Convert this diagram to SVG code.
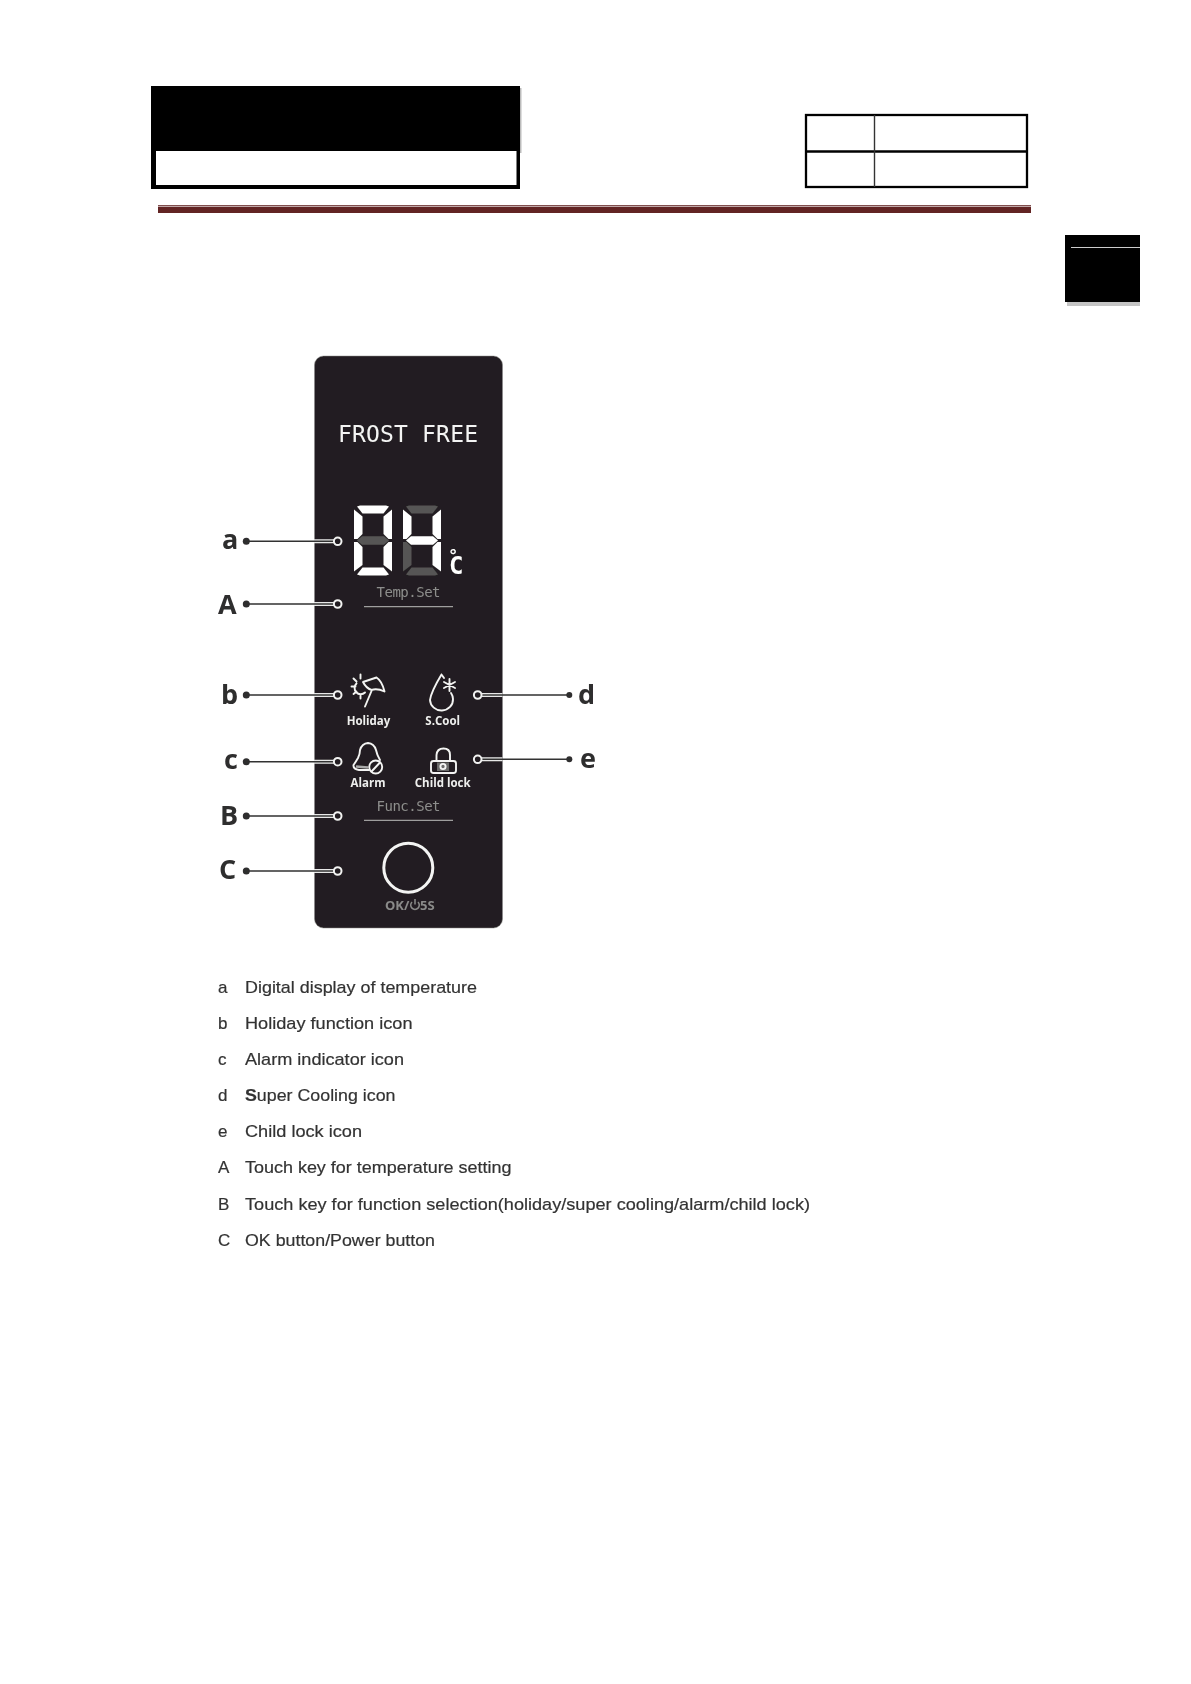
<svg xmlns="http://www.w3.org/2000/svg" width="1191" height="1684" viewBox="0 0 1191 1684">
<style>
.on{fill:#fff}.off{fill:#565555}
.mono{font-family:"DejaVu Sans Mono","Liberation Mono",monospace}
.tag{font-family:"Open Sans","Noto Sans",sans-serif;font-weight:700;font-size:27px;fill:#2f2d2e}
.ico{font-family:"Open Sans","Noto Sans",sans-serif;font-weight:700;font-size:11.5px;fill:#eee;text-anchor:middle}
.set{font-size:14px;fill:#8d8d8d}
.ok{font-family:"Open Sans","Noto Sans",sans-serif;font-weight:700;font-size:13px;fill:#8a8a8a}
.und{stroke:#bdbdbd;stroke-width:1}
.lst{font-family:"Liberation Sans",Arial,sans-serif;font-size:17px;fill:#333;stroke:#333;stroke-width:.2}
.stk{fill:none;stroke:#f4f4f4;stroke-width:1.9;stroke-linecap:round;stroke-linejoin:round}
.halo{stroke:#e8e8e8;stroke-width:4;fill:none}
.ln{stroke:#333;stroke-width:1.5;fill:none}
.dot{fill:#2f2d2e}
.ring{fill:#231f20;stroke:#f2f2f2;stroke-width:2}
.soft{filter:url(#soft)}
</style>
<defs>
<filter id="soft" x="-5%" y="-5%" width="110%" height="110%"><feGaussianBlur stdDeviation=".35"/></filter>
<polygon id="sT" points="3,1 6,0 32,0 35,1 29.500,8 8.500,8"/>
<polygon id="sUL" points="0,4 8.500,11 8.500,28.500 3.500,33.500 0,33.500"/>
<polygon id="sUR" points="38,4 29.500,11 29.500,28.500 34.500,33.500 38,33.500"/>
<polygon id="sM" points="3,35 8,30.800 30,30.800 35,35 30,39.200 8,39.200"/>
<polygon id="sLL" points="0,36.500 3.500,36.500 8.500,41.500 8.500,59.500 0,66"/>
<polygon id="sLR" points="38,36.500 34.500,36.500 29.500,41.500 29.500,59.500 38,66"/>
<polygon id="sB" points="3,69 8.500,62 29.500,62 35,69 32,70 6,70"/>
</defs>
<rect width="1191" height="1684" fill="#fff"/>

<g id="header-box">
<rect x="520" y="88" width="1.500" height="65" fill="#bbb"/>
<rect x="151" y="86" width="369" height="103" fill="#000"/>
<rect x="156" y="151" width="360.500" height="34" fill="#fff"/>
</g>
<g id="header-table">
<rect x="806" y="115" width="221" height="72" fill="#fff" stroke="#000" stroke-width="2.300"/>
<line x1="806" y1="151.500" x2="1027" y2="151.500" stroke="#000" stroke-width="2.300"/>
<line x1="874.500" y1="115" x2="874.500" y2="187" stroke="#333" stroke-width="1.400"/>
</g>
<g id="header-rule">
<rect x="158" y="205.200" width="873" height="1.200" fill="#622423"/>
<rect x="158" y="207" width="873" height="6" fill="#622423"/>
</g>
<g id="side-tab">
<rect x="1067" y="302" width="73" height="4" fill="#c4c4c4"/>
<rect x="1065" y="235" width="75" height="67" fill="#000"/>
<rect x="1071" y="247" width="69" height="1" fill="#ccc"/>
</g>

<g class="soft">
<g id="panel">
<rect x="314.500" y="356" width="188" height="572" rx="9" fill="#231f20" stroke="#888" stroke-width=".5"/>
<text x="338" y="441.500" class="mono" font-size="23" fill="#f4f4f4" textLength="140">FROST FREE</text>
</g>

<g id="display">
<g transform="translate(354,505.500)">
<use href="#sT" class="on"/><use href="#sUL" class="on"/><use href="#sUR" class="on"/><use href="#sM" class="off"/><use href="#sLL" class="on"/><use href="#sLR" class="on"/><use href="#sB" class="on"/>
</g>
<g transform="translate(403,505.500)">
<use href="#sT" class="off"/><use href="#sUL" class="on"/><use href="#sUR" class="on"/><use href="#sM" class="on"/><use href="#sLL" class="off"/><use href="#sLR" class="on"/><use href="#sB" class="off"/>
</g>
<text class="mono" font-weight="700" fill="#fff"><tspan x="448" y="562" font-size="17">°</tspan><tspan x="449" y="574" font-size="24">C</tspan></text>
</g>

<g id="temp-set">
<text x="376.500" y="596.500" class="mono set" textLength="64">Temp.Set</text>
<line x1="364" y1="606.700" x2="453" y2="606.700" class="und"/>
</g>

<g id="holiday">
<path class="stk" d="M363 682L376.500 677.500Q382 681 384.500 691.500Q377 688 371.500 690Q366 688 363 682ZM371.500 691L365 706.500"/>
<path class="stk" d="M365 692.500A6 6 0 0 1 356.500 683.500M353.500 678.500L356.500 681.500M360.500 674.500V678.500M351.500 686.500H355.500M353.500 694L356.500 691.500M360.500 698.500V695"/>
<text x="368.500" y="725" class="ico">Holiday</text>
</g>
<g id="s-cool">
<path class="stk" d="M441.500 674.500Q431 692 430 700A11.500 11 0 0 0 453 699Q453 696 451 693M441.500 674.500L444 678"/>
<path class="stk" d="M449.500 679V691M444 682L455 688M444 688L455 682"/>
<text x="442.700" y="725" class="ico">S.Cool</text>
</g>
<g id="alarm">
<path class="stk" d="M353.500 765Q355 763 358 758Q360 754 360 750Q362 743.500 368 743Q374 743.500 376 750Q377 755 380 760M353.500 765Q353 769 359 770H369"/>
<line x1="356" y1="766.500" x2="368" y2="767.500" stroke="#aaa" stroke-width="2.500"/>
<circle cx="375.700" cy="767" r="6.500" class="stk"/>
<line x1="371.500" y1="771.500" x2="380" y2="762.500" class="stk"/>
<text x="368" y="787" class="ico">Alarm</text>
</g>
<g id="child-lock">
<rect x="431" y="761" width="25" height="12" rx="2.500" class="stk"/>
<path class="stk" d="M436.500 760.500V755Q437 748.500 443.500 748.500Q450 748.500 450 755V760.500"/>
<rect x="437" y="762.500" width="12" height="8.500" fill="#6a6a6a"/>
<circle cx="443" cy="766.500" r="2.600" class="stk" stroke-width="1"/>
<text x="442.700" y="787" class="ico">Child lock</text>
</g>

<g id="func-set">
<text x="376.500" y="810.500" class="mono set" textLength="64">Func.Set</text>
<line x1="364" y1="820.300" x2="453" y2="820.300" class="und"/>
</g>
<g id="ok-button">
<circle cx="408.300" cy="867.700" r="24.500" fill="none" stroke="#f4f4f4" stroke-width="3"/>
<text x="385" y="910" class="ok">OK/</text>
<path d="M412 902A4.300 4.300 0 1 0 418 902M415 899V904.500" fill="none" stroke="#8a8a8a" stroke-width="1.500"/>
<text x="420" y="910" class="ok">5S</text>
</g>

<g id="connectors">
<path class="halo" d="M314 541.300H334M314 604H334M314 695H334M314 761.700H334M314 816H334M314 871H334M502.500 695H481M502.500 759.300H481"/>
<path class="ln" d="M246.300 541.300H334M246.300 604H334M246.300 695H334M246.300 761.700H334M246.300 816H334M246.300 871H334M569.300 695H481M569.300 759.300H481"/>
<circle cx="246.300" cy="541.300" r="3.500" class="dot"/><circle cx="246.300" cy="604" r="3.500" class="dot"/><circle cx="246.300" cy="695" r="3.500" class="dot"/><circle cx="246.300" cy="761.700" r="3.500" class="dot"/><circle cx="246.300" cy="816" r="3.500" class="dot"/><circle cx="246.300" cy="871" r="3.500" class="dot"/><circle cx="569.300" cy="695" r="3" class="dot"/><circle cx="569.300" cy="759.300" r="3" class="dot"/>
<circle cx="337.700" cy="541.300" r="3.800" class="ring"/><circle cx="337.700" cy="604" r="3.800" class="ring"/><circle cx="337.700" cy="695" r="3.800" class="ring"/><circle cx="337.700" cy="761.700" r="3.800" class="ring"/><circle cx="337.700" cy="816" r="3.800" class="ring"/><circle cx="337.700" cy="871" r="3.800" class="ring"/><circle cx="477.700" cy="695" r="3.800" class="ring"/><circle cx="477.700" cy="759.300" r="3.800" class="ring"/>
</g>
<g id="tags">
<text x="222" y="549" class="tag">a</text>
<text x="218" y="614" class="tag">A</text>
<text x="221" y="704" class="tag">b</text>
<text x="224" y="769" class="tag">c</text>
<text x="220" y="825" class="tag">B</text>
<text x="219" y="879" class="tag">C</text>
<text x="578" y="704" class="tag">d</text>
<text x="580" y="767.500" class="tag">e</text>
</g>

<g id="legend" class="lst">
<text x="218" y="993.300">a</text><text x="245" y="993.300" textLength="232" lengthAdjust="spacingAndGlyphs">Digital display of temperature</text>
<text x="218" y="1029.300">b</text><text x="245" y="1029.300" textLength="167.500" lengthAdjust="spacingAndGlyphs">Holiday function icon</text>
<text x="218" y="1065.300">c</text><text x="245" y="1065.300" textLength="159" lengthAdjust="spacingAndGlyphs">Alarm indicator icon</text>
<text x="218" y="1101.300">d</text><text x="245" y="1101.300" textLength="150.500" lengthAdjust="spacingAndGlyphs"><tspan font-weight="700">S</tspan>uper Cooling icon</text>
<text x="218" y="1137">e</text><text x="245" y="1137" textLength="117" lengthAdjust="spacingAndGlyphs">Child lock icon</text>
<text x="218" y="1172.700">A</text><text x="245" y="1172.700" textLength="266.500" lengthAdjust="spacingAndGlyphs">Touch key for temperature setting</text>
<text x="218" y="1210">B</text><text x="245" y="1210" textLength="565" lengthAdjust="spacingAndGlyphs">Touch key for function selection(holiday/super cooling/alarm/child lock)</text>
<text x="218" y="1245.700">C</text><text x="245" y="1245.700" textLength="190" lengthAdjust="spacingAndGlyphs">OK button/Power button</text>
</g>
</g>
</svg>
